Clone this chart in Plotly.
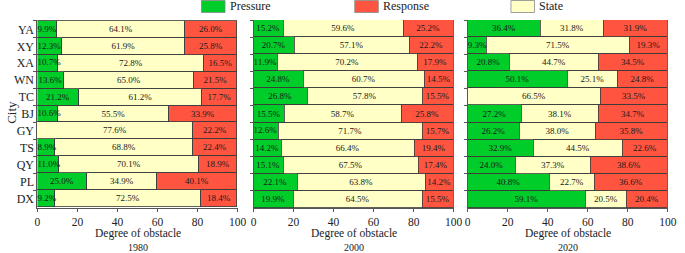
import plotly.graph_objects as go

cities = ["YA", "XY", "XA", "WN", "TC", "BJ", "GY", "TS", "QY", "PL", "DX"]
years = ["1980", "2000", "2020"]

pressure_1980 = [9.9, 12.3, 10.7, 13.6, 21.2, 10.6, 0.2, 8.9, 11.0, 25.0, 9.2]
state_1980 = [64.1, 61.9, 72.8, 65.0, 61.2, 55.5, 77.6, 68.8, 70.1, 34.9, 72.5]
response_1980 = [26.0, 25.8, 16.5, 21.5, 17.7, 33.9, 22.2, 22.4, 18.9, 40.1, 18.4]

pressure_2000 = [15.2, 20.7, 11.9, 24.8, 26.8, 15.5, 12.6, 14.2, 15.1, 22.1, 19.9]
state_2000 = [59.6, 57.1, 70.2, 60.7, 57.8, 58.7, 71.7, 66.4, 67.5, 63.8, 64.5]
response_2000 = [25.2, 22.2, 17.9, 14.5, 15.5, 25.8, 15.7, 19.4, 17.4, 14.2, 15.5]

pressure_2020 = [36.4, 9.3, 20.8, 50.1, 0.0, 27.2, 26.2, 32.9, 24.0, 40.8, 59.1]
state_2020 = [31.8, 71.5, 44.7, 25.1, 66.5, 38.1, 38.0, 44.5, 37.3, 22.7, 20.5]
response_2020 = [31.9, 19.3, 34.5, 24.8, 33.5, 34.7, 35.8, 22.6, 38.6, 36.6, 20.4]

xticks = [0, 20, 40, 60, 80, 100]

panels = [
    (pressure_1980, state_1980, response_1980),
    (pressure_2000, state_2000, response_2000),
    (pressure_2020, state_2020, response_2020),
]

GREEN = "#00CC2A"
YELLOW = "#FFFFC6"
RED = "#FF5540"
EDGE = "#3a3a3a"
FONT = "Liberation Serif, 'Times New Roman', Times, 'DejaVu Serif', serif"
W, H = 685, 253

xdom_px = [(35, 239), (255, 459), (473, 677)]
ytop, ybot = 20, 208

fig = go.Figure()

def lbl(v):
    return f"{v:.1f}%"

for i, (p, s, r) in enumerate(panels):
    xa = "x" if i == 0 else f"x{i+1}"
    ya = "y" if i == 0 else f"y{i+1}"
    p_text = [lbl(v) if v >= 13 else "" for v in p]
    for vals, txt, col, nm in [
        (p, p_text, GREEN, "Pressure"),
        (s, [lbl(v) for v in s], YELLOW, "State"),
        (r, [lbl(v) for v in r], RED, "Response"),
    ]:
        fig.add_trace(go.Bar(
            y=cities, x=vals, orientation="h", name=nm,
            marker=dict(color=col, line=dict(color=EDGE, width=0.8)),
            text=txt, textposition="inside", insidetextanchor="middle",
            textfont=dict(family=FONT, size=9, color="#1a1a1a"),
            xaxis=xa, yaxis=ya, showlegend=False, hoverinfo="skip", cliponaxis=False))
    small_y = [c for c, v in zip(cities, p) if 1 <= v < 13]
    small_t = [lbl(v) for v in p if 1 <= v < 13]
    fig.add_trace(go.Scatter(
        y=small_y, x=[0] * len(small_y), mode="text", text=small_t, textposition="middle right",
        textfont=dict(family=FONT, size=9, color="#1a1a1a"),
        xaxis=xa, yaxis=ya, showlegend=False, hoverinfo="skip", cliponaxis=False))

layout = dict(
    width=W, height=H, margin=dict(l=0, r=0, t=0, b=0),
    paper_bgcolor="white", plot_bgcolor="white",
    barmode="stack", bargap=0,
    uniformtext=dict(minsize=9, mode="show"),
    font=dict(family=FONT, color="#222"),
)
ydom = [1 - ybot / H, 1 - ytop / H]
for i in range(3):
    xk = "xaxis" if i == 0 else f"xaxis{i+1}"
    yk = "yaxis" if i == 0 else f"yaxis{i+1}"
    x0, x1 = xdom_px[i]
    layout[xk] = dict(
        domain=[x0 / W, x1 / W], range=[0, 100.15], tickvals=xticks, ticktext=[str(t) for t in xticks],
        showline=True, linecolor="#555", linewidth=1, ticks="outside", ticklen=3, tickcolor="#555",
        showgrid=False, zeroline=False, tickfont=dict(family=FONT, size=11.5, color="#222"),
        anchor="y" if i == 0 else f"y{i+1}", fixedrange=True)
    layout[yk] = dict(
        domain=ydom, categoryorder="array", categoryarray=cities, autorange="reversed",
        showline=True, linecolor="#555", linewidth=1, ticks="outside", ticklen=3, tickcolor="#555",
        tickson="boundaries", showgrid=False, zeroline=False, showticklabels=(i == 0),
        tickfont=dict(family=FONT, size=12, color="#222"),
        anchor="x" if i == 0 else f"x{i+1}", fixedrange=True)
fig.update_layout(**layout)

annotations = []
for i in range(3):
    x0, x1 = xdom_px[i]
    cx = (x0 + x1) / 2 / W
    annotations.append(dict(x=cx, y=1 - 233.5 / H, xref="paper", yref="paper", text="Degree of obstacle",
                            showarrow=False, font=dict(family=FONT, size=11.5, color="#222"),
                            xanchor="center", yanchor="middle"))
    annotations.append(dict(x=cx, y=1 - 247 / H, xref="paper", yref="paper", text=years[i],
                            showarrow=False, font=dict(family=FONT, size=10, color="#222"),
                            xanchor="center", yanchor="middle"))
annotations.append(dict(x=8 / W, y=1 - 112 / H, xref="paper", yref="paper", text="City", textangle=-90,
                        showarrow=False, font=dict(family=FONT, size=13, color="#222"),
                        xanchor="center", yanchor="middle"))

legend_items = [("Pressure", GREEN, 202), ("Response", RED, 358), ("State", YELLOW, 517)]
shapes = []
for name, col, px in legend_items:
    shapes.append(dict(type="rect", xref="paper", yref="paper",
                       x0=px / W, x1=(px + 24) / W, y0=1 - 12.5 / H, y1=1 - 0.5 / H,
                       fillcolor=col, line=dict(color="#888", width=0.8)))
    annotations.append(dict(x=(px + 27) / W, y=1 - 6.5 / H, xref="paper", yref="paper", text=name,
                            showarrow=False, font=dict(family=FONT, size=12, color="#222"),
                            xanchor="left", yanchor="middle"))
fig.update_layout(annotations=annotations, shapes=shapes)

fig.write_html("out.html", config={"displayModeBar": False},
               post_script="document.body.style.margin='0px';document.body.style.padding='0px';")
